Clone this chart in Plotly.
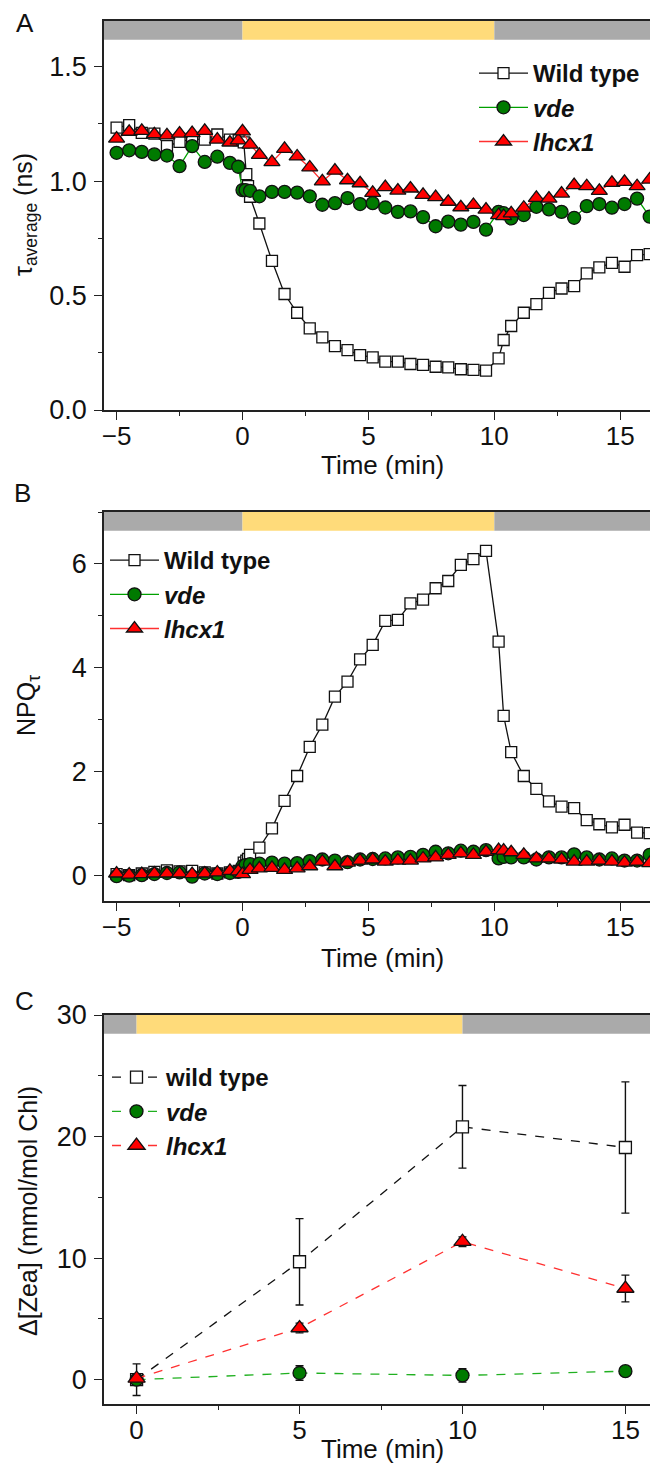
import plotly.graph_objects as go

FONT = "Liberation Sans, Arial, Helvetica, sans-serif"
PAGE_OFF = 8            # default body margin of the html page
W, H = 650, 1456        # figure size so the page (658x1464) is filled exactly

# ---------------- data ----------------
light_on = 0
light_off = 10

# time points (min), panels A and B
t_wt = [-5.0, -4.5, -4.0, -3.5, -3.0, -2.5, -2.0, -1.5, -1.0, -0.5, -0.15, 0.05, 0.15, 0.22, 0.3, 0.67,
        1.17, 1.67, 2.17, 2.67, 3.17, 3.67, 4.17, 4.67, 5.17, 5.67, 6.17, 6.67, 7.17, 7.67, 8.17, 8.67,
        9.17, 9.67, 10.17, 10.37, 10.67, 11.17, 11.67, 12.17, 12.67, 13.17, 13.67, 14.17, 14.67, 15.17,
        15.67, 16.17]
t_vde = [-5.0, -4.5, -4.0, -3.5, -3.0, -2.5, -2.0, -1.5, -1.0, -0.5, -0.17, 0.0, 0.12, 0.3, 0.67,
         1.17, 1.67, 2.17, 2.67, 3.17, 3.67, 4.17, 4.67, 5.17, 5.67, 6.17, 6.67, 7.17, 7.67, 8.17, 8.67,
         9.17, 9.67, 10.17, 10.37, 10.67, 11.17, 11.67, 12.17, 12.67, 13.17, 13.67, 14.17, 14.67, 15.17,
         15.67, 16.17]
t_lhcx1 = [-5.0, -4.5, -4.0, -3.5, -3.0, -2.5, -2.0, -1.5, -1.0, -0.5, -0.17, 0.0, 0.3, 0.67,
           1.17, 1.67, 2.17, 2.67, 3.17, 3.67, 4.17, 4.67, 5.17, 5.67, 6.17, 6.67, 7.17, 7.67, 8.17, 8.67,
           9.17, 9.67, 10.17, 10.37, 10.67, 11.17, 11.67, 12.17, 12.67, 13.17, 13.67, 14.17, 14.67, 15.17,
           15.67, 16.17]

# Panel A: tau_average (ns)
tau_wt = [1.234, 1.245, 1.211, 1.208, 1.153, 1.172, 1.185, 1.182, 1.204, 1.182, 1.18, 1.17,
          1.031, 0.978, 0.932, 0.815,
          0.652, 0.507, 0.425, 0.357, 0.317, 0.279, 0.262, 0.240, 0.230, 0.211, 0.211, 0.201, 0.197,
          0.189, 0.186, 0.178, 0.175, 0.172,
          0.226, 0.306, 0.367,
          0.425, 0.463, 0.512, 0.531, 0.541, 0.597, 0.623, 0.643, 0.626, 0.677, 0.681]
tau_vde = [1.124, 1.135, 1.128, 1.117, 1.112, 1.066, 1.153, 1.084, 1.107, 1.080,
           1.063, 0.961, 0.961, 0.958, 0.934,
           0.953, 0.953, 0.950, 0.934, 0.897, 0.904, 0.926, 0.900, 0.904, 0.885, 0.866, 0.868, 0.843,
           0.803, 0.823, 0.810, 0.822, 0.788,
           0.866, 0.860, 0.837,
           0.852, 0.888, 0.877, 0.866, 0.840, 0.891, 0.900, 0.884, 0.900, 0.924, 0.845]
tau_lhcx1 = [1.186, 1.216, 1.220, 1.205, 1.200, 1.208, 1.210, 1.220, 1.182, 1.169,
             1.178, 1.218, 1.160, 1.115,
             1.083, 1.141, 1.108, 1.060, 0.999, 1.046, 1.004, 0.991, 0.949, 0.974, 0.959, 0.968, 0.940,
             0.930, 0.910, 0.886, 0.896, 0.876,
             0.852, 0.847, 0.859,
             0.884, 0.927, 0.924, 0.946, 0.983, 0.978, 0.958, 0.993, 0.997, 0.978, 1.007]

# Panel B: NPQ_tau
npq_wt = [0.02, 0.00, 0.03, 0.06, 0.09, 0.07, 0.08, 0.05, 0.03, 0.05, 0.08, 0.24,
          0.28, 0.31, 0.39, 0.53,
          0.90, 1.43, 1.91, 2.47, 2.90, 3.44, 3.73, 4.16, 4.44, 4.90, 4.92, 5.24, 5.31, 5.53, 5.67,
          5.98, 6.09, 6.25,
          4.50, 3.07, 2.37,
          1.91, 1.66, 1.42, 1.32, 1.29, 1.06, 0.98, 0.92, 0.97, 0.82, 0.81]
npq_vde = [-0.02, -0.01, 0.00, 0.02, 0.04, 0.05, -0.03, 0.03, 0.02, 0.04,
           0.06, 0.17, 0.19, 0.21, 0.22,
           0.24, 0.22, 0.23, 0.27, 0.30, 0.28, 0.25, 0.30, 0.31, 0.32, 0.34, 0.35, 0.39, 0.45, 0.42,
           0.47, 0.45, 0.48,
           0.32, 0.35, 0.34,
           0.34, 0.30, 0.34, 0.34, 0.40, 0.34, 0.30, 0.32, 0.28, 0.28, 0.39]
npq_lhcx1 = [0.03, 0.01, 0.02, 0.03, 0.03, 0.03, 0.02, 0.03, 0.05, 0.08,
             0.07, 0.02, 0.10, 0.13,
             0.14, 0.10, 0.13, 0.17, 0.26, 0.17, 0.24, 0.28, 0.30, 0.26, 0.28, 0.28, 0.32, 0.34, 0.39,
             0.42, 0.39, 0.45,
             0.48, 0.47, 0.44,
             0.39, 0.32, 0.32, 0.30, 0.26, 0.26, 0.28, 0.26, 0.24, 0.26, 0.23]

# Panel C: delta[Zea] (mmol/mol Chl)
t_zea = [0, 5, 10, 15]
zea_wt = [0.0, 9.7, 20.8, 19.1]
zea_wt_err = [1.3, 3.55, 3.4, 5.4]
zea_vde = [0.0, 0.55, 0.35, 0.7]
zea_vde_err = [0.3, 0.6, 0.55, 0.3]
zea_lhcx1 = [0.1, 4.25, 11.35, 7.5]
zea_lhcx1_err = [0.2, 0.4, 0.4, 1.1]

# ---------------- styling ----------------
BLACK = "#111111"
AX = "#222222"
GREEN_FILL = "#007a00"
GREEN_LINE = "#00a000"
RED_FILL = "#ff0000"
RED_LINE = "#ff3030"
GRAY_BAR = "#aaaaaa"
YELLOW_BAR = "#ffdb7a"


def pxx(p):   # page x pixel -> paper fraction
    return (p - PAGE_OFF) / W


def pxy(p):   # page y pixel -> paper fraction
    return 1 - (p - PAGE_OFF) / H


fig = go.Figure()


def add_series(x, y, name, xa, ya, legend, symbol, fill, lcolor, size, dash="solid", err=None):
    tr = dict(
        x=x, y=y, name=name, mode="lines+markers", xaxis=xa, yaxis=ya, legend=legend,
        line=dict(color=lcolor, width=1.3, dash=dash),
        marker=dict(symbol=symbol, size=size, color=fill, line=dict(color=BLACK, width=1.3)),
    )
    if err is not None:
        tr["error_y"] = dict(type="data", array=err, visible=True, color=BLACK, thickness=1.4, width=4)
    fig.add_trace(go.Scatter(**tr))


# Panel A
add_series(t_wt, tau_wt, "<b>Wild type</b>", "x", "y", "legend", "square", "white", BLACK, 11)
add_series(t_vde, tau_vde, "<b><i>vde</i></b>", "x", "y", "legend", "circle", GREEN_FILL, GREEN_LINE, 13)
add_series(t_lhcx1, tau_lhcx1, "<b><i>lhcx1</i></b>", "x", "y", "legend", "triangle-up", RED_FILL, RED_LINE, 14)

# Panel B
add_series(t_wt, npq_wt, "<b>Wild type</b>", "x2", "y2", "legend2", "square", "white", BLACK, 11)
add_series(t_vde, npq_vde, "<b><i>vde</i></b>", "x2", "y2", "legend2", "circle", GREEN_FILL, GREEN_LINE, 13)
add_series(t_lhcx1, npq_lhcx1, "<b><i>lhcx1</i></b>", "x2", "y2", "legend2", "triangle-up", RED_FILL, RED_LINE, 14)

# Panel C
add_series(t_zea, zea_wt, "<b>wild type</b>", "x3", "y3", "legend3", "square", "white", BLACK, 12, dash="dash", err=zea_wt_err)
add_series(t_zea, zea_vde, "<b><i>vde</i></b>", "x3", "y3", "legend3", "circle", GREEN_FILL, "#20b020", 13, dash="dash", err=zea_vde_err)
add_series(t_zea, zea_lhcx1, "<b><i>lhcx1</i></b>", "x3", "y3", "legend3", "triangle-up", RED_FILL, RED_LINE, 15, dash="dash", err=zea_lhcx1_err)

# light bars (dark / light / dark)
x_ranges = {"x": [-5.5, 16.5], "x2": [-5.5, 16.5], "x3": [-1, 16]}
y_names = {"x": "y", "x2": "y2", "x3": "y3"}
for xa, (x0, x1) in x_ranges.items():
    ya = y_names[xa]
    for a, b, c in [(x0, light_on, GRAY_BAR), (light_on, light_off, YELLOW_BAR), (light_off, x1, GRAY_BAR)]:
        fig.add_shape(type="rect", xref=xa, yref=ya + " domain", x0=a, x1=b, y0=0.952, y1=1.0,
                      fillcolor=c, line=dict(width=0), layer="above")

XDOM = [pxx(104), 1.0]
axis_common = dict(showline=True, linecolor=AX, linewidth=1.5, ticks="outside", ticklen=8,
                   tickwidth=1.3, tickcolor=AX, showgrid=False, zeroline=False, automargin=False)
yfont = dict(family=FONT, size=27, color=BLACK)
xfont = dict(family=FONT, size=26, color=BLACK)
xminor = dict(ticks="outside", dtick=2.5, ticklen=4, tickcolor=AX)

fig.update_layout(
    template="none",
    width=W, height=H, margin=dict(l=0, r=0, t=0, b=0, pad=0),
    paper_bgcolor="white", plot_bgcolor="white",
    font=dict(family=FONT, color=BLACK),
    xaxis=dict(domain=XDOM, anchor="y", range=x_ranges["x"], dtick=5, tick0=0, mirror=True,
               ticklabelstandoff=-6, tickfont=xfont, minor=xminor, **axis_common),
    yaxis=dict(domain=[pxy(410), pxy(21)], anchor="x", range=[0, 1.70], dtick=0.5, tick0=0,
               tickformat=".1f", ticklabelstandoff=2, tickfont=yfont,
               minor=dict(ticks="outside", dtick=0.25, ticklen=4, tickcolor=AX), **axis_common),
    xaxis2=dict(domain=XDOM, anchor="y2", range=x_ranges["x2"], dtick=5, tick0=0, mirror=True,
                ticklabelstandoff=-6, tickfont=xfont, minor=xminor, **axis_common),
    yaxis2=dict(domain=[pxy(901), pxy(512)], anchor="x2", range=[-0.5, 7.0], dtick=2, tick0=0,
                ticklabelstandoff=2, tickfont=yfont,
                minor=dict(ticks="outside", dtick=1, ticklen=4, tickcolor=AX), **axis_common),
    xaxis3=dict(domain=XDOM, anchor="y3", range=x_ranges["x3"], dtick=5, tick0=0, mirror=True,
                ticklabelstandoff=-6, tickfont=xfont, minor=xminor, **axis_common),
    yaxis3=dict(domain=[pxy(1404), pxy(1015)], anchor="x3", range=[-2, 30], dtick=10, tick0=0,
                ticklabelstandoff=2, tickfont=yfont,
                minor=dict(ticks="outside", dtick=5, ticklen=4, tickcolor=AX), **axis_common),
)

leg_common = dict(bgcolor="rgba(0,0,0,0)", borderwidth=0, font=dict(family=FONT, size=24, color=BLACK),
                  xanchor="left", yanchor="top", tracegroupgap=0, itemwidth=49)
fig.update_layout(
    legend=dict(x=pxx(474), y=pxy(51), **leg_common),
    legend2=dict(x=pxx(105), y=pxy(538), **leg_common),
    legend3=dict(x=pxx(107), y=pxy(1055), **leg_common),
)

annotations = [
    dict(text="A", x=25, y=23, size=26),
    dict(text="B", x=22, y=493, size=26),
    dict(text="C", x=24, y=1001, size=26),
    dict(text="Time (min)", x=383, y=465, size=26),
    dict(text="Time (min)", x=383, y=958, size=26),
    dict(text="Time (min)", x=383, y=1449, size=26),
    dict(text="τ<sub>average</sub> (ns)", x=25, y=215, size=25, angle=-90),
    dict(text="NPQ<sub>τ</sub>", x=28, y=706, size=25, angle=-90),
    dict(text="Δ[Zea] (mmol/mol Chl)", x=28, y=1211, size=25, angle=-90),
]
for a in annotations:
    fig.add_annotation(text=a["text"], x=pxx(a["x"]), y=pxy(a["y"]), xref="paper", yref="paper",
                       xanchor="center", yanchor="middle", showarrow=False,
                       textangle=a.get("angle", 0),
                       font=dict(family=FONT, size=a["size"], color=BLACK))

fig.write_html("out.html")
